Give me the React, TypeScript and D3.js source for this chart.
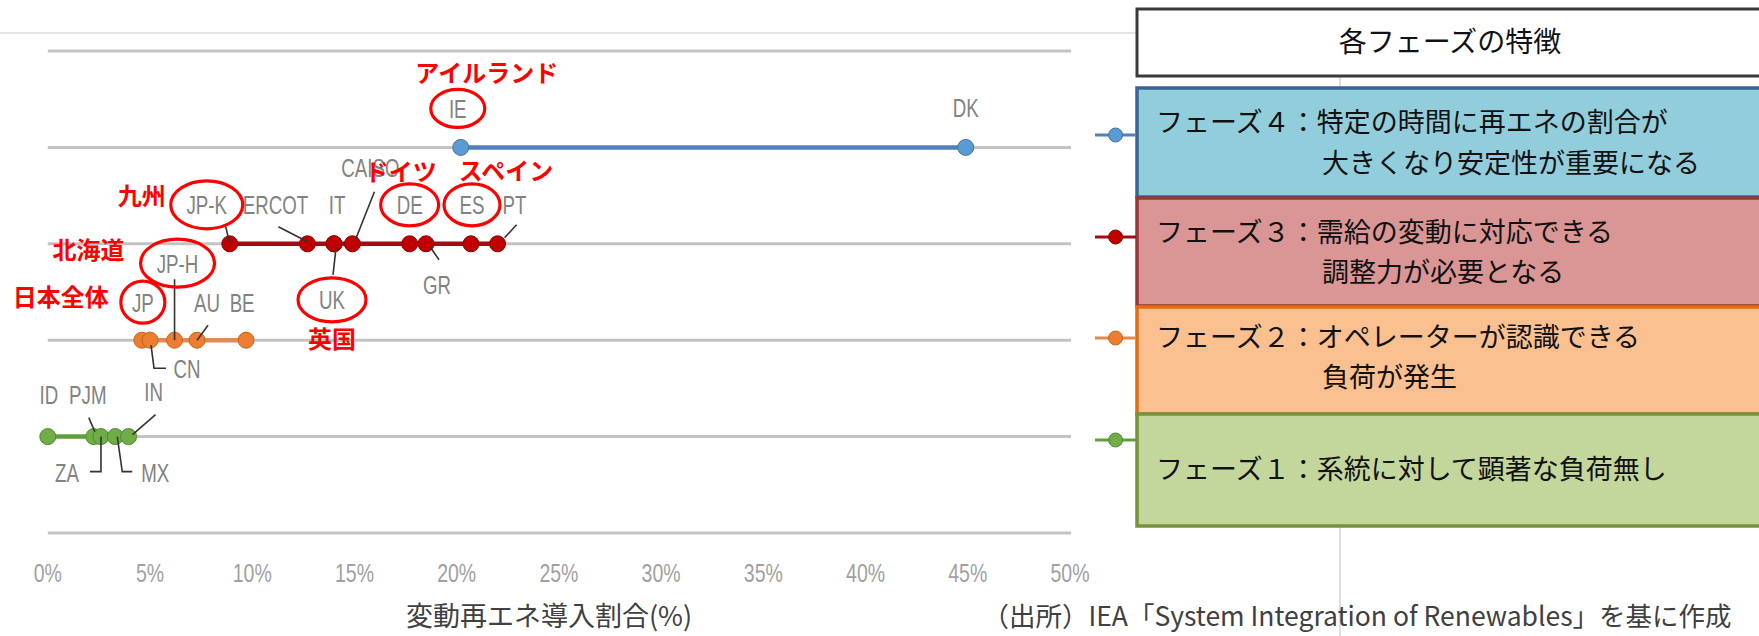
import React from "react";
import * as d3 from "d3";

// ---- data ----
const xTicks = [0, 5, 10, 15, 20, 25, 30, 35, 40, 45, 50];
const phaseLevels = [4, 3, 2, 1];

const phase4Codes = ["IE", "DK"];
const phase4Values = [20.2, 44.9];
const phase3Codes = ["JP-K", "ERCOT", "IT", "UK", "CAISO", "DE", "GR", "ES", "PT"];
const phase3Values = [8.9, 12.7, 14.0, 14.0, 14.9, 17.7, 18.5, 20.7, 22.0];
const phase2Codes = ["JP", "CN", "JP-H", "AU", "BE"];
const phase2Values = [4.6, 5.0, 6.2, 7.3, 9.7];
const phase1Codes = ["ID", "PJM", "ZA", "MX", "IN"];
const phase1Values = [0, 2.25, 2.6, 3.3, 3.95];

const phaseTitle = "各フェーズの特徴";
const phaseLine1 = [
  "フェーズ４：特定の時間に再エネの割合が",
  "フェーズ３：需給の変動に対応できる",
  "フェーズ２：オペレーターが認識できる",
  "フェーズ１：系統に対して顕著な負荷無し",
];
const phaseLine2 = ["大きくなり安定性が重要になる", "調整力が必要となる", "負荷が発生", ""];

const highlightCodes = ["IE", "JP-K", "DE", "ES", "JP-H", "JP", "UK"];
const highlightNames = ["アイルランド", "九州", "ドイツ", "スペイン", "北海道", "日本全体", "英国"];

const xAxisTitle = "変動再エネ導入割合(%)";
const sourceText = "（出所）IEA「System Integration of Renewables」を基に作成";

// ---- styles / layout ----
const seriesStyle: Record<number, { line: string; dot: string; edge: string }> = {
  4: { line: "#4f81bd", dot: "#5b9bd5", edge: "#41719c" },
  3: { line: "#9c0f14", dot: "#c00000", edge: "#8b0000" },
  2: { line: "#e58a4e", dot: "#ed7d31", edge: "#c2651f" },
  1: { line: "#5f9e3a", dot: "#70ad47", edge: "#4e8a2e" },
};

const boxStyle: Record<number, { fill: string; stroke: string; top: number; bottom: number; y1: number; y2: number; marker: number }> = {
  4: { fill: "#92cddc", stroke: "#3b6496", top: 88, bottom: 197, y1: 123, y2: 164, marker: 135 },
  3: { fill: "#da9694", stroke: "#953735", top: 198, bottom: 306, y1: 233, y2: 273, marker: 237 },
  2: { fill: "#fac090", stroke: "#e46c0a", top: 307, bottom: 414, y1: 338, y2: 378, marker: 338 },
  1: { fill: "#c3d69b", stroke: "#77933c", top: 414, bottom: 526, y1: 470, y2: 470, marker: 440 },
};

// label offset relative to its dot (dx, dy) and leader polyline (relative)
const labelLayout: Record<string, { dx: number; dy: number; leader?: [number, number][] }> = {
  IE: { dx: -3, dy: -39 },
  DK: { dx: 0, dy: -40 },
  "JP-K": { dx: -23, dy: -39, leader: [[-4, -17], [0, 0]] },
  ERCOT: { dx: -32, dy: -39, leader: [[-29, -17], [0, -2]] },
  IT: { dx: 3, dy: -39 },
  UK: { dx: -2, dy: 56, leader: [[2, 4], [-1, 31]] },
  CAISO: { dx: 18, dy: -76, leader: [[22, -52], [3, -4]] },
  DE: { dx: 0, dy: -39 },
  GR: { dx: 11, dy: 41, leader: [[4, 3], [13, 16]] },
  ES: { dx: 1, dy: -39 },
  PT: { dx: 17, dy: -39, leader: [[7, -6], [19, -19]] },
  JP: { dx: 1, dy: -38 },
  CN: { dx: 37, dy: 28, leader: [[1, 5], [4, 28], [16, 28]] },
  "JP-H": { dx: 3, dy: -77, leader: [[0, -61], [0, 0]] },
  AU: { dx: 10, dy: -38, leader: [[11, -15], [0, 0]] },
  BE: { dx: -4, dy: -38 },
  ID: { dx: 1, dy: -42 },
  PJM: { dx: -6, dy: -42, leader: [[-5, -19], [1, -5]] },
  ZA: { dx: -34, dy: 36, leader: [[0, 0], [0, 35], [-11, 35]] },
  MX: { dx: 40, dy: 36, leader: [[2, 0], [7, 35], [17, 35]] },
  IN: { dx: 25, dy: -45, leader: [[27, -22], [4, -2]] },
};

const highlightLayout: Record<string, { rx: number; ry: number; ndx: number; ndy: number }> = {
  IE: { rx: 27, ry: 19, ndx: 26, ndy: -74 },
  "JP-K": { rx: 36, ry: 24, ndx: -88, ndy: -47 },
  DE: { rx: 29, ry: 21, ndx: -9, ndy: -71 },
  ES: { rx: 28, ry: 21, ndx: 35, ndy: -72 },
  "JP-H": { rx: 37, ry: 24, ndx: -86, ndy: -90 },
  JP: { rx: 22, ry: 21, ndx: -81, ndy: -43 },
  UK: { rx: 34, ry: 22, ndx: -2, ndy: 96 },
};

const W = 1759;
const H = 636;
const SANS = "'Liberation Sans', Arial, sans-serif";
const JP = "'Noto Sans CJK JP', 'Noto Sans', sans-serif";

function Narrow({ x, y, text, size, fill, sx }: { x: number; y: number; text: string; size: number; fill: string; sx: number }) {
  return (
    <text
      transform={`translate(${x},${y}) scale(${sx},1)`}
      dy="0.36em"
      textAnchor="middle"
      fontFamily={SANS}
      fontSize={size}
      fill={fill}
    >
      {text}
    </text>
  );
}

export default function App() {
  const x = d3.scaleLinear().domain([0, 50]).range([47.8, 1070]);
  const y = d3.scaleLinear().domain([5, 0]).range([51, 533]);

  const series = [
    { level: 4, codes: phase4Codes, values: phase4Values },
    { level: 3, codes: phase3Codes, values: phase3Values },
    { level: 2, codes: phase2Codes, values: phase2Values },
    { level: 1, codes: phase1Codes, values: phase1Values },
  ];

  const pos: Record<string, { cx: number; cy: number }> = {};
  series.forEach((s) => s.codes.forEach((c, i) => (pos[c] = { cx: x(s.values[i]), cy: y(s.level) })));

  const lineGen = d3
    .line<number>()
    .x((d) => x(d))
    .y(() => 0);

  const boxLeft = 1137;
  const gridLevels = d3.range(0, 6);

  return (
    <svg
      width={W}
      height={H}
      style={{ position: "absolute", left: 0, top: 0, background: "#fff" }}
      xmlns="http://www.w3.org/2000/svg"
    >
      {/* slide guide lines */}
      <line x1={0} x2={1340} y1={33} y2={33} stroke="#c8c8c8" strokeWidth={1.2} />
      <line x1={1340} x2={1340} y1={33} y2={H} stroke="#c8c8c8" strokeWidth={1.2} />

      {/* grid */}
      {gridLevels.map((g) => (
        <line key={g} x1={x(0)} x2={x(50) + 1} y1={y(g)} y2={y(g)} stroke="#c3c3c3" strokeWidth={3} />
      ))}

      {/* x tick labels */}
      {xTicks.map((t) => (
        <Narrow key={t} x={x(t)} y={573} text={`${t}%`} size={25} fill="#a0a0a0" sx={0.78} />
      ))}

      {/* series */}
      {series.map((s) => {
        const st = seriesStyle[s.level];
        const ext = d3.extent(s.values) as [number, number];
        return (
          <g key={s.level} transform={`translate(0,${y(s.level)})`}>
            <path d={lineGen(ext) || ""} stroke={st.line} strokeWidth={4.5} fill="none" />
            {s.values.map((v, i) => (
              <circle key={i} cx={x(v)} cy={0} r={8} fill={st.dot} stroke={st.edge} strokeWidth={1} />
            ))}
          </g>
        );
      })}

      {/* leaders */}
      {Object.keys(pos).map((c) => {
        const l = labelLayout[c];
        if (!l || !l.leader) return null;
        const p = pos[c];
        const pts = l.leader.map(([dx, dy]) => `${p.cx + dx},${p.cy + dy}`).join(" ");
        return <polyline key={c} points={pts} fill="none" stroke="#333" strokeWidth={1.6} />;
      })}

      {/* country labels */}
      {Object.keys(pos).map((c) => {
        const l = labelLayout[c];
        const p = pos[c];
        return <Narrow key={c} x={p.cx + l.dx} y={p.cy + l.dy} text={c} size={26} fill="#828282" sx={0.72} />;
      })}

      {/* highlights */}
      {highlightCodes.map((c, i) => {
        const h = highlightLayout[c];
        const l = labelLayout[c];
        const p = pos[c];
        const lx = p.cx + l.dx;
        const ly = p.cy + l.dy;
        return (
          <g key={c}>
            <ellipse cx={lx} cy={ly} rx={h.rx} ry={h.ry} fill="none" stroke="#ff0000" strokeWidth={3.2} />
            <text
              x={p.cx + h.ndx}
              y={p.cy + h.ndy}
              dy="0.35em"
              textAnchor="middle"
              fontFamily={JP}
              fontWeight={700}
              fontSize={24}
              fill="#ff0000"
            >
              {highlightNames[i]}
            </text>
          </g>
        );
      })}

      {/* axis title & source */}
      <text x={549} y={617} dy="0.35em" textAnchor="middle" fontFamily={JP} fontSize={27} fill="#404040">
        {xAxisTitle}
      </text>
      <text x={1357} y={617} dy="0.35em" textAnchor="middle" fontFamily={JP} fontSize={26.5} fill="#404040">
        {sourceText}
      </text>

      {/* phase boxes */}
      <rect x={boxLeft} y={9} width={700} height={67} fill="#fff" stroke="#3a3a3a" strokeWidth={3} />
      <text x={1450} y={42} dy="0.35em" textAnchor="middle" fontFamily={JP} fontSize={28} fill="#111">
        {phaseTitle}
      </text>
      {phaseLevels.map((lv, i) => {
        const b = boxStyle[lv];
        const st = seriesStyle[lv];
        return (
          <g key={lv}>
            <rect
              x={boxLeft}
              y={b.top}
              width={700}
              height={b.bottom - b.top}
              fill={b.fill}
              stroke={b.stroke}
              strokeWidth={3.5}
            />
            <text x={1156} y={b.y1} dy="0.35em" fontFamily={JP} fontSize={27} fill="#111">
              {phaseLine1[i]}
            </text>
            {phaseLine2[i] && (
              <text x={1322} y={b.y2} dy="0.35em" fontFamily={JP} fontSize={27} fill="#111">
                {phaseLine2[i]}
              </text>
            )}
            <line x1={1095} x2={boxLeft - 1} y1={b.marker} y2={b.marker} stroke={st.line} strokeWidth={3} />
            <circle cx={1115.6} cy={b.marker} r={7} fill={st.dot} stroke={st.edge} strokeWidth={1} />
          </g>
        );
      })}
    </svg>
  );
}
